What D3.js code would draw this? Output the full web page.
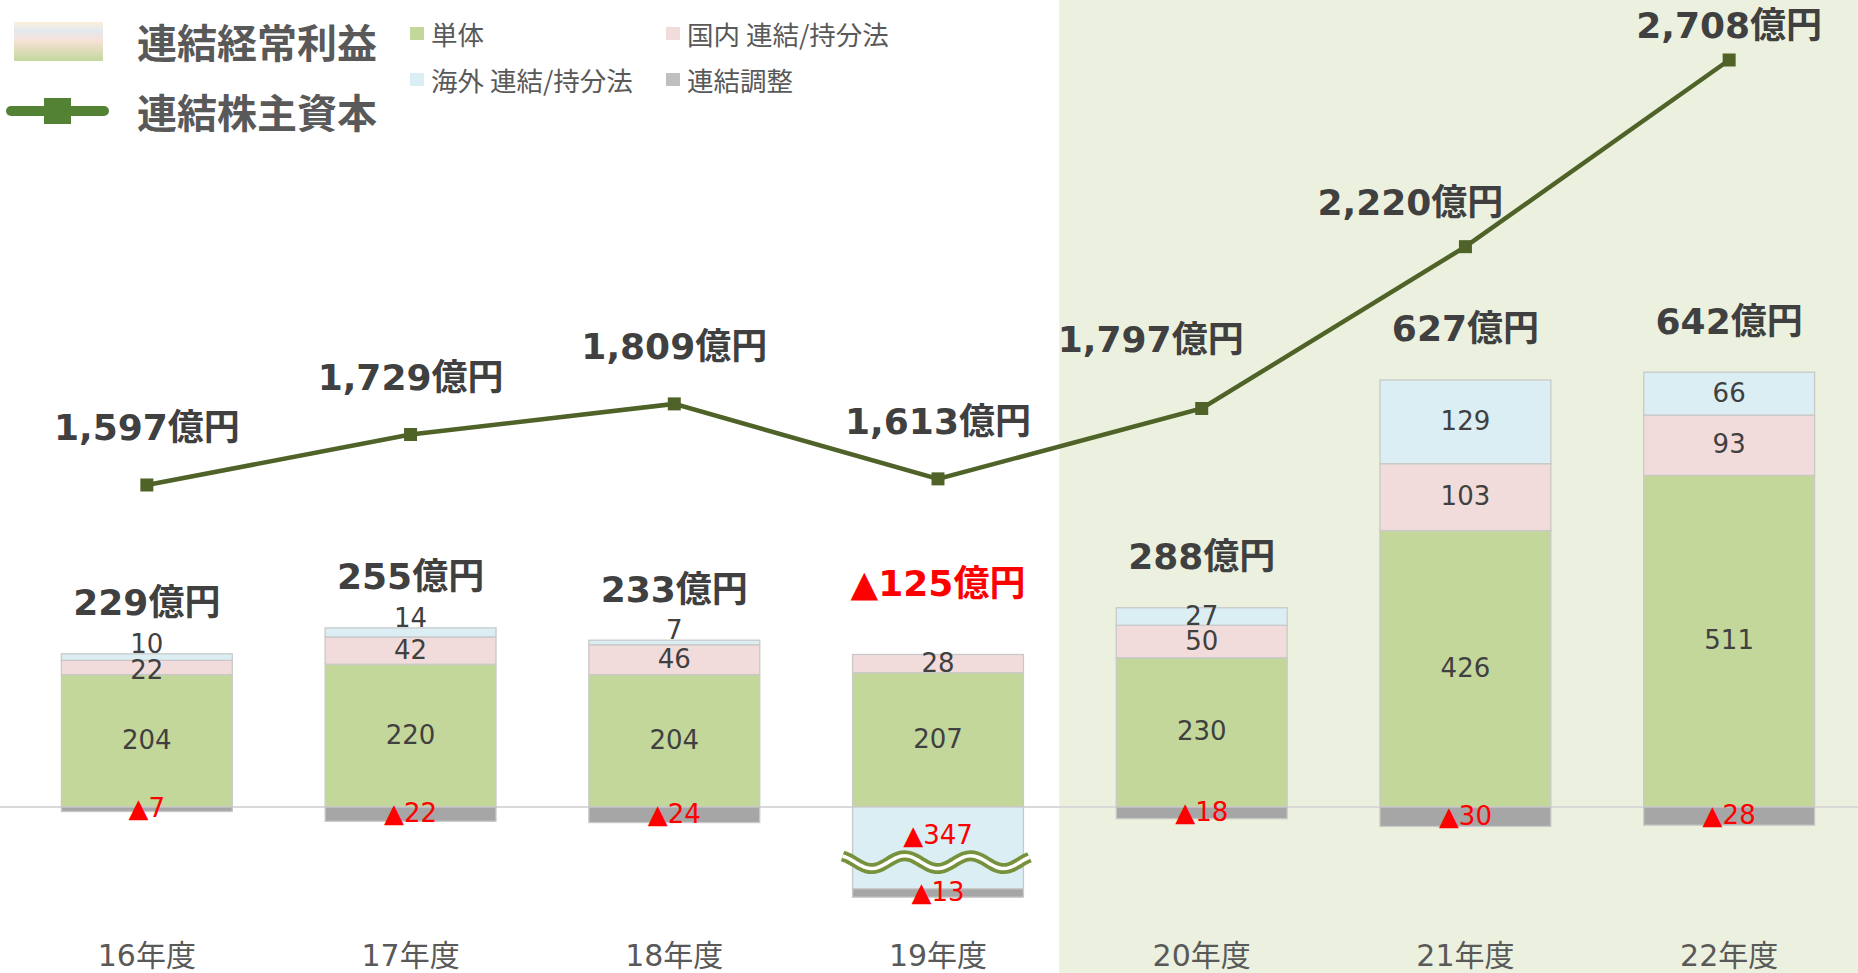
<!DOCTYPE html>
<html>
<head>
<meta charset="utf-8">
<script src="https://cdn.jsdelivr.net/npm/d3@7"></script>
<style>
  html, body { margin: 0; padding: 0; background: #fff; }
  svg { display: block; }
</style>
</head>
<body>
<div id="chart"></div>
<script>
// data (億円)
const years = ['16年度', '17年度', '18年度', '19年度', '20年度', '21年度', '22年度']
const tantai = [204, 220, 204, 207, 230, 426, 511]       // 単体
const kokunai = [22, 42, 46, 28, 50, 103, 93]           // 国内 連結/持分法
const kaigai = [10, 14, 7, -347, 27, 129, 66]           // 海外 連結/持分法
const chosei = [-7, -22, -24, -13, -18, -30, -28]       // 連結調整
const keijo = [229, 255, 233, -125, 288, 627, 642]      // 連結経常利益
const kabunushi = [1597, 1729, 1809, 1613, 1797, 2220, 2708] // 連結株主資本

// label nudges for the equity line (dx, dy from the point)
const lineLabelNudge = [[0, -57], [0, -57], [0, -57], [0, -57], [-51, -69], [-55, -44], [0, -34]]

const width = 1858
const height = 973
const BREAK_CAP = 126   // 19年度 海外 bar is cut off at this depth
const BREAK_AT = -85    // where the wavy break mark sits

const NUM = '"DejaVu Sans", "Noto Sans CJK JP", sans-serif'
const JP = '"Noto Sans CJK JP", sans-serif'

const colors = {
  tantai: '#c4d79b',
  kokunai: '#f2dcdb',
  kaigai: '#dbeef3',
  chosei: '#a6a6a6',
}

const svg = d3
  .select('#chart')
  .append('svg')
  .attr('width', width)
  .attr('height', height)
  .attr('viewBox', [0, 0, width, height])

const x = d3.scaleBand().domain(years).range([15, 1861]).paddingInner(0.352).paddingOuter(0.176)
const yBar = d3.scaleLinear().domain([0, 700]).range([807, 352.7])
const yLine = d3.scaleLinear().domain([1500, 2800]).range([522.1, 24.8])
const cx = (d) => x(d) + x.bandwidth() / 2

// shaded forecast panel
svg
  .append('rect')
  .attr('x', cx('20年度') - x.step() * 0.54)
  .attr('y', 0)
  .attr('width', width)
  .attr('height', height)
  .attr('fill', '#ebf1de')

// zero line
svg
  .append('line')
  .attr('x1', 0)
  .attr('x2', width)
  .attr('y1', yBar(0))
  .attr('y2', yBar(0))
  .attr('stroke', '#d9d9d9')
  .attr('stroke-width', 2)

// stacked bars
const rows = years.map((year, i) => ({
  year,
  i,
  tantai: tantai[i],
  kokunai: kokunai[i],
  kaigai: Math.max(kaigai[i], -BREAK_CAP),
  chosei: chosei[i],
}))
const keys = ['tantai', 'kokunai', 'kaigai', 'chosei']
const realValues = { tantai, kokunai, kaigai, chosei }
const series = d3.stack().keys(keys).offset(d3.stackOffsetDiverging)(rows)

const segs = []
series.forEach((s) => {
  s.forEach((d) => {
    segs.push({ key: s.key, year: d.data.year, i: d.data.i, y0: d[0], y1: d[1] })
  })
})

svg
  .append('g')
  .selectAll('rect')
  .data(segs)
  .join('rect')
  .attr('x', (d) => x(d.year))
  .attr('width', x.bandwidth())
  .attr('y', (d) => yBar(Math.max(d.y0, d.y1)))
  .attr('height', (d) => Math.abs(yBar(d.y0) - yBar(d.y1)))
  .attr('fill', (d) => colors[d.key])
  .attr('stroke', '#c9c9c9')
  .attr('stroke-width', 1.3)

// segment labels
svg
  .append('g')
  .selectAll('text')
  .data(segs)
  .join('text')
  .attr('x', (d) => cx(d.year))
  .attr('y', (d) => {
    const v = realValues[d.key][d.i]
    const top = yBar(Math.max(d.y0, d.y1))
    const bot = yBar(Math.min(d.y0, d.y1))
    if (v < -BREAK_CAP) return (yBar(0) + yBar(BREAK_AT)) / 2
    if (v > 0 && bot - top < 12) return top - 10
    if (v > 0 && bot - top < 16) return (top + bot) / 2 + 3
    return (top + bot) / 2 - 1
  })
  .attr('text-anchor', 'middle')
  .attr('dominant-baseline', 'central')
  .style('font-family', NUM)
  .style('font-size', '26px')
  .attr('fill', (d) => (realValues[d.key][d.i] < 0 ? '#ff0000' : '#404040'))
  .text((d) => {
    const v = realValues[d.key][d.i]
    return v < 0 ? '▲' + Math.abs(v) : v
  })

// wavy break mark on the cut-off bar
const breaks = years.filter((y, i) => kaigai[i] < -BREAK_CAP)
breaks.forEach((year) => {
  const x0 = x(year) - 10
  const x1 = x(year) + x.bandwidth() + 6
  const pts = d3.range(0, 61).map((k) => {
    const px = x0 + ((x1 - x0) * k) / 60
    return [px, yBar(BREAK_AT) + 6.5 * Math.sin(((px - x0) / 66) * 2 * Math.PI - 1.2)]
  })
  const wave = d3.line().curve(d3.curveBasis)(pts)
  svg.append('path').attr('d', wave).attr('fill', 'none').attr('stroke', '#76923c').attr('stroke-width', 11)
  svg.append('path').attr('d', wave).attr('fill', 'none').attr('stroke', '#ffffff').attr('stroke-width', 3.5)
})

// total (連結経常利益) labels
svg
  .append('g')
  .selectAll('text')
  .data(keijo)
  .join('text')
  .attr('x', (d, i) => cx(years[i]))
  .attr('y', (d, i) => {
    const top = yBar(tantai[i] + kokunai[i] + Math.max(0, kaigai[i]))
    return d < 0 ? top - 71 : top - 51
  })
  .attr('text-anchor', 'middle')
  .attr('dominant-baseline', 'central')
  .style('font-family', NUM)
  .style('font-size', '36px')
  .style('font-weight', 'bold')
  .attr('fill', (d) => (d < 0 ? '#ff0000' : '#404040'))
  .text((d) => (d < 0 ? '▲' + Math.abs(d) : d) + '億円')

// equity line
const line = d3
  .line()
  .x((d, i) => cx(years[i]))
  .y((d) => yLine(d))

svg
  .append('path')
  .datum(kabunushi)
  .attr('d', line)
  .attr('fill', 'none')
  .attr('stroke', '#4f6228')
  .attr('stroke-width', 4.5)

svg
  .append('g')
  .selectAll('rect')
  .data(kabunushi)
  .join('rect')
  .attr('x', (d, i) => cx(years[i]) - 6.5)
  .attr('y', (d) => yLine(d) - 6.5)
  .attr('width', 13)
  .attr('height', 13)
  .attr('fill', '#4f6228')

svg
  .append('g')
  .selectAll('text')
  .data(kabunushi)
  .join('text')
  .attr('x', (d, i) => cx(years[i]) + lineLabelNudge[i][0])
  .attr('y', (d, i) => yLine(d) + lineLabelNudge[i][1])
  .attr('text-anchor', 'middle')
  .attr('dominant-baseline', 'central')
  .style('font-family', NUM)
  .style('font-size', '36px')
  .style('font-weight', 'bold')
  .attr('fill', '#404040')
  .text((d) => d3.format(',')(d) + '億円')

// category axis
svg
  .append('g')
  .selectAll('text')
  .data(years)
  .join('text')
  .attr('x', (d) => cx(d))
  .attr('y', 955)
  .attr('text-anchor', 'middle')
  .attr('dominant-baseline', 'central')
  .style('font-family', NUM)
  .style('font-size', '30px')
  .attr('fill', '#595959')
  .text((d) => d)

// legend
const defs = svg.append('defs')
const grad = defs
  .append('linearGradient')
  .attr('id', 'keijoGrad')
  .attr('x1', 0)
  .attr('x2', 0)
  .attr('y1', 0)
  .attr('y2', 1)
grad.append('stop').attr('offset', '0%').attr('stop-color', '#fbf0d9')
grad.append('stop').attr('offset', '22%').attr('stop-color', '#e2e9f0')
grad.append('stop').attr('offset', '48%').attr('stop-color', '#f7e1d5')
grad.append('stop').attr('offset', '100%').attr('stop-color', '#c3d79d')

const legend = svg.append('g')
legend
  .append('rect')
  .attr('x', 14)
  .attr('y', 22)
  .attr('width', 89)
  .attr('height', 39)
  .attr('fill', 'url(#keijoGrad)')
legend
  .append('line')
  .attr('x1', 11)
  .attr('x2', 104)
  .attr('y1', 111)
  .attr('y2', 111)
  .attr('stroke', '#548235')
  .attr('stroke-width', 10)
  .attr('stroke-linecap', 'round')
legend
  .append('rect')
  .attr('x', 44)
  .attr('y', 98)
  .attr('width', 27)
  .attr('height', 26)
  .attr('fill', '#548235')

legend
  .selectAll('text.big')
  .data([['連結経常利益', 41], ['連結株主資本', 111]])
  .join('text')
  .attr('class', 'big')
  .attr('x', 137)
  .attr('y', (d) => d[1])
  .attr('dominant-baseline', 'central')
  .style('font-family', JP)
  .style('font-size', '40px')
  .style('font-weight', 'bold')
  .attr('fill', '#595959')
  .text((d) => d[0])

const smallLegend = [
  ['単体', colors.tantai, 410, 33],
  ['国内 連結/持分法', colors.kokunai, 666, 33],
  ['海外 連結/持分法', colors.kaigai, 410, 79],
  ['連結調整', '#bfbfbf', 666, 79],
]
const sl = legend.selectAll('g.item').data(smallLegend).join('g').attr('class', 'item')
sl.append('rect')
  .attr('x', (d) => d[2])
  .attr('y', (d) => d[3] - 6)
  .attr('width', 14)
  .attr('height', 13)
  .attr('fill', (d) => d[1])
sl.append('text')
  .attr('x', (d) => d[2] + 21)
  .attr('y', (d) => d[3])
  .attr('dominant-baseline', 'central')
  .style('font-family', JP)
  .style('font-size', '26.5px')
  .attr('fill', '#595959')
  .text((d) => d[0])
</script>
</body>
</html>
